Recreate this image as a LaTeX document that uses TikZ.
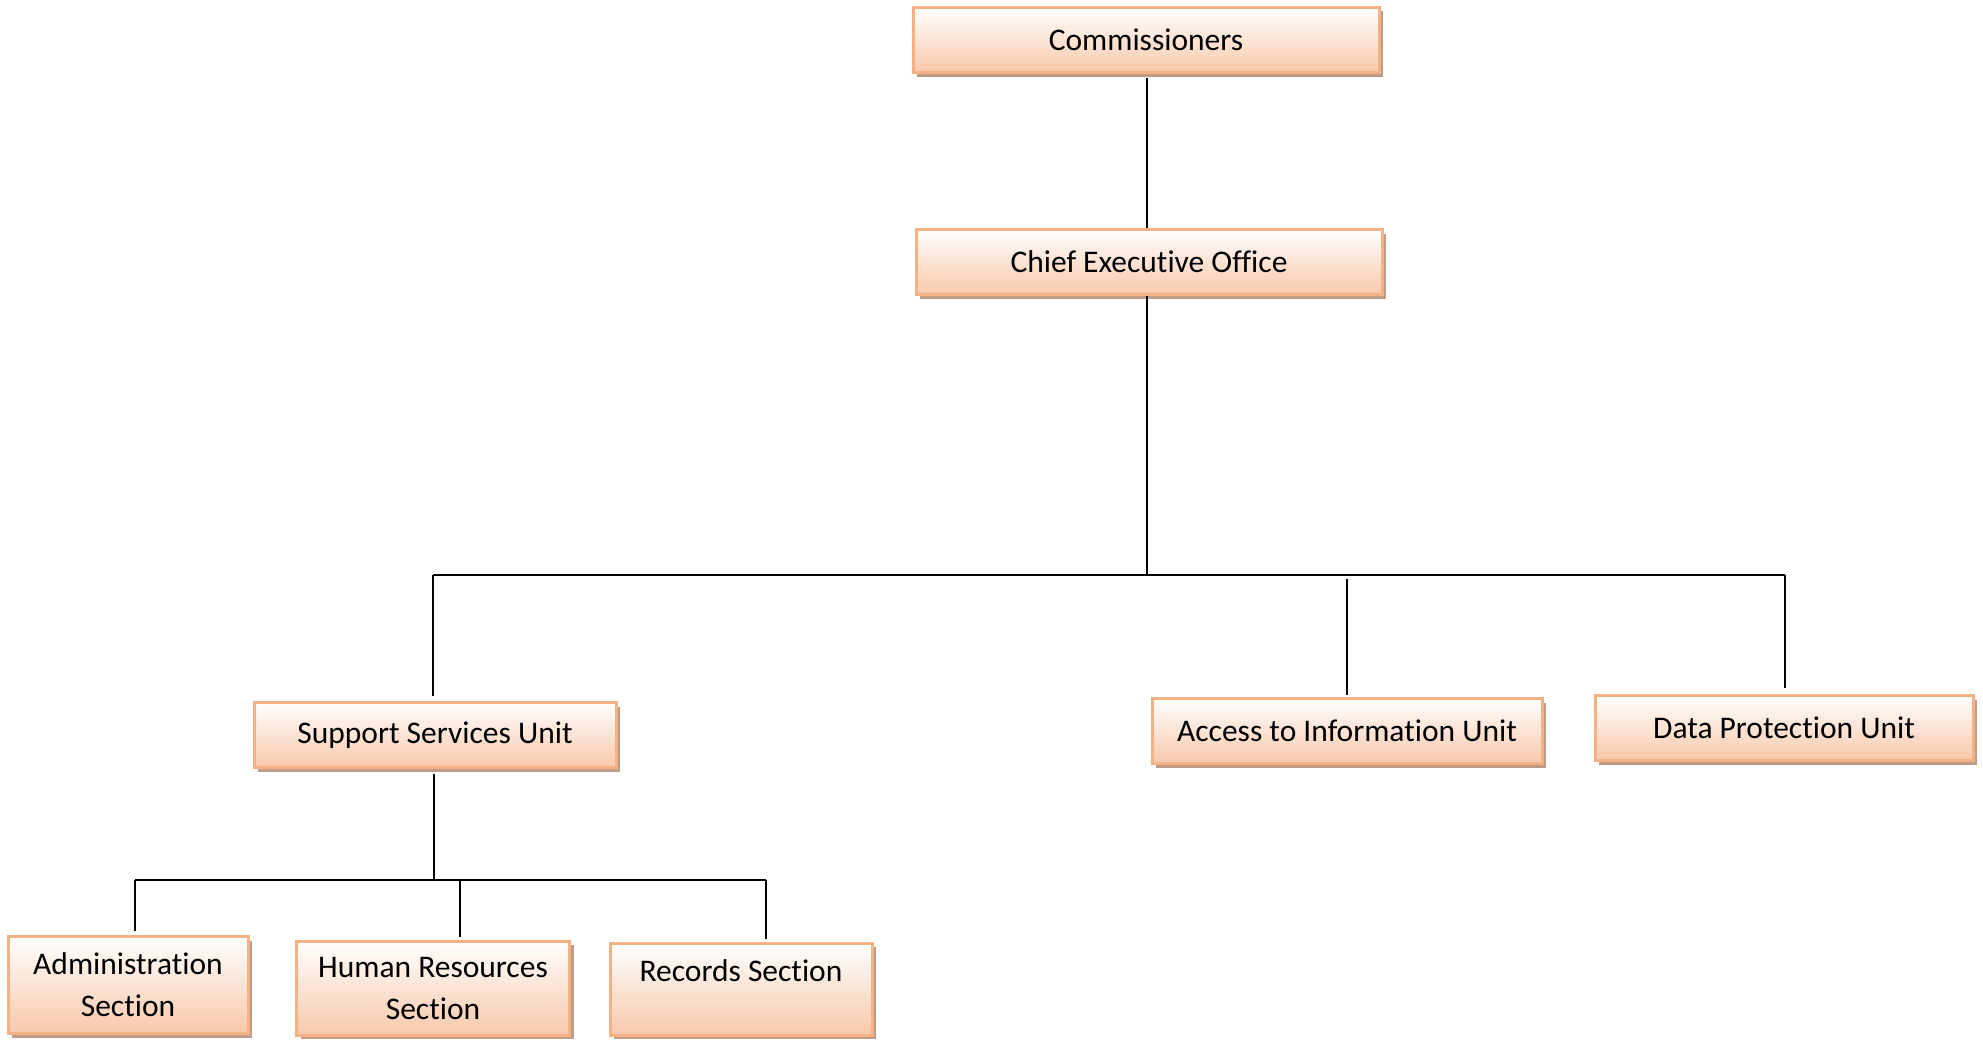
\documentclass[tikz,border=0pt]{standalone}
\usepackage{fontspec}
\setmainfont[Ligatures=NoCommon]{Carlito}
\usetikzlibrary{positioning,shadows}
\definecolor{unitedge}{RGB}{244,177,131}
\definecolor{unitfill}{RGB}{248,200,170}
\definecolor{unitshade}{RGB}{192,155,133}

\begin{document}
\begin{tikzpicture}[x=1pt,y=-1pt,
  unit/.style={draw=unitedge, line width=3pt, top color=white, bottom color=unitfill,
    drop shadow={shadow xshift=4pt, shadow yshift=-4pt, fill=unitshade, opacity=1},
    align=center, inner sep=0pt, minimum height=65pt, font=\fontsize{31.5}{42}\selectfont},
  link/.style={draw=black, line width=1.2pt}]
\useasboundingbox (0,0) rectangle (1983,1041);

% top of the chart
\node[unit, minimum width=466pt] (comm) at (1146,40) {Commissioners};
\node[unit, minimum width=466pt] (ceo) at (1149,262) {Chief Executive Office};

% units
\node[unit, minimum width=362pt] (ssu) at (435,735) {Support Services Unit};
\node[unit, minimum width=390pt] (ati) at (1347,731) {Access to Information Unit};
\node[unit, minimum width=378pt] (dpu) at (1784,728) {Data Protection Unit};

% sections
\node[unit, minimum width=240pt, minimum height=97pt] (adm) at (128,985) {Administration\\Section};
\node[unit, minimum width=273pt, minimum height=94pt] (hrs) at (433,988) {Human Resources\\Section};
\node[unit, minimum width=262pt, minimum height=92pt, text depth=36pt] (rec) at (741,989) {Records Section};

% bars
\coordinate (hub) at (1147,575);
\coordinate (barL) at (433,575);
\coordinate (barR) at (1785,575);
\coordinate (subhub) at (434,880);
\coordinate (subL) at (135,880);
\coordinate (subR) at (766,880);

\draw[link, shorten <=4pt] (comm.south -| hub) -- (ceo.north -| hub);
\draw[link] (ceo.south -| hub) -- (hub);
\draw[link] (barL) -- (barR);
\draw[link, shorten >=5pt] (barL) -- (barL |- ssu.north);
\draw[link, shorten <=4pt, shorten >=2pt] (1347,575) -- (ati.north);
\draw[link, shorten >=6pt] (barR) -- (barR |- dpu.north);

\draw[link, shorten <=5pt] (ssu.south -| subhub) -- (subhub);
\draw[link] (subL) -- (subR);
\draw[link, shorten >=4pt] (subL) -- (subL |- adm.north);
\draw[link, shorten >=3pt] (460,880) -- (460,880 |- hrs.north);
\draw[link, shorten >=3pt] (subR) -- (subR |- rec.north);
\end{tikzpicture}
\end{document}
